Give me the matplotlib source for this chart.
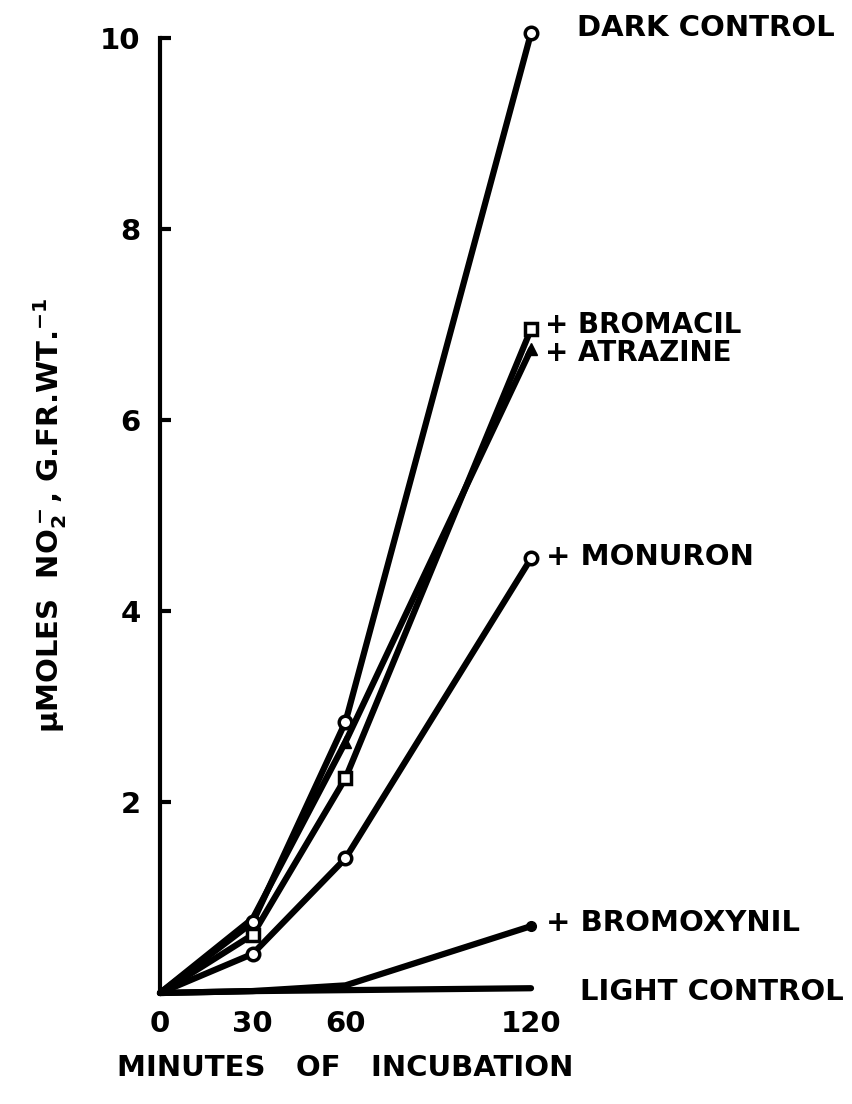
import matplotlib.pyplot as plt

# minutos de incubacion
minutes = [0, 30, 60, 120]

# umoles NO2- por g peso fresco
dark_control = [0.0, 0.74, 2.84, 10.05]
bromacil = [0.0, 0.61, 2.25, 6.95]
atrazine = [0.0, 0.78, 2.63, 6.74]
monuron = [0.0, 0.41, 1.41, 4.55]
bromoxynil = [0.0, 0.02, 0.08, 0.70]
light_control = [0.0, 0.02, 0.03, 0.05]

yticks = [2, 4, 6, 8, 10]
xticks = [0, 30, 60, 120]

plt.rcParams['font.family'] = ['DejaVu Sans']
plt.rcParams['font.weight'] = 'bold'
plt.rcParams['axes.labelweight'] = 'bold'
plt.rcParams['mathtext.fontset'] = 'dejavusans'
plt.rcParams['mathtext.default'] = 'bf'

fig = plt.figure(figsize=(8.53, 11.04), dpi=100)
ax = fig.add_axes([160 / 853, 111 / 1104, 371 / 853, 955 / 1104])

lw = 4.5
comun = dict(color='black', lw=lw, solid_capstyle='round', solid_joinstyle='round',
             clip_on=False, zorder=3)

ax.plot(minutes, light_control, **comun)
ax.plot(minutes, bromoxynil, marker='o', ms=7, mfc='black', mec='black', markevery=[3], **comun)
ax.plot(minutes, monuron, marker='o', ms=9, mfc='white', mec='black', mew=2.5, markevery=[1, 2, 3], **comun)
ax.plot(minutes, bromacil, marker='s', ms=8, mfc='white', mec='black', mew=2.5, markevery=[1, 2, 3], **comun)
ax.plot(minutes, atrazine, marker='^', ms=9, mfc='black', mec='black', markevery=[2, 3], **comun)
ax.plot(minutes, dark_control, marker='o', ms=9, mfc='white', mec='black', mew=2.5, markevery=[1, 2, 3], **comun)

# nombres al final de cada curva
fs = 21
ax.text(135, 10.1, 'DARK CONTROL', fontsize=fs, va='center', ha='left')
ax.text(124.5, 6.99, '+ BROMACIL', fontsize=20, va='center', ha='left')
ax.text(124.5, 6.70, '+ ATRAZINE', fontsize=20, va='center', ha='left')
ax.text(125, 4.57, '+ MONURON', fontsize=fs, va='center', ha='left')
ax.text(125, 0.73, '+ BROMOXYNIL', fontsize=fs, va='center', ha='left')
ax.text(136, 0.01, 'LIGHT CONTROL', fontsize=fs, va='center', ha='left')

ax.set_xlim(0, 120)
ax.set_ylim(0, 10)
for s in ['top', 'right', 'bottom']:
    ax.spines[s].set_visible(False)
ax.spines['left'].set_linewidth(3)

ax.set_yticks(yticks)
ax.set_yticklabels([str(t) for t in yticks], fontsize=fs)
ax.tick_params(axis='y', direction='in', length=8, width=3, pad=14)
ax.set_xticks(xticks)
ax.set_xticklabels([str(t) for t in xticks], fontsize=fs)
ax.tick_params(axis='x', length=0, pad=12)

ax.set_xlabel('MINUTES   OF   INCUBATION', fontsize=fs, fontweight='bold', labelpad=12)
ax.set_ylabel(r'$\mu$MOLES  NO$_2^-$, G.FR.WT.$^{-1}$', fontsize=fs, fontweight='bold', labelpad=22)

fig.savefig('out.png', dpi=100)
